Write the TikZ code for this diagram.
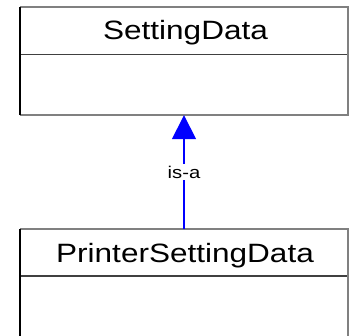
\documentclass[tikz,border=0pt]{standalone}
\usepackage{fontspec}
\setmainfont{Liberation Sans}
\usetikzlibrary{arrows.meta}
\definecolor{edgegray}{HTML}{808080}
\definecolor{divgray}{HTML}{404040}
\tikzset{
  classbox/.style={rectangle, inner sep=0pt, minimum width=328pt},
  titletext/.style={anchor=base, inner sep=0pt, font=\fontsize{26.5}{30}\selectfont, xscale=1.19},
  litetext/.style={font=\fontsize{17}{20}\selectfont, xscale=1.19, fill=white, inner sep=2pt},
  lightedge/.style={draw=edgegray, line width=1.8pt},
  darkedge/.style={draw=black, line width=1.5pt},
  divedge/.style={draw=divgray, line width=1.5pt},
  isa/.style={draw=blue, line width=1.5pt, -{Triangle[width=24pt,length=24pt]}, fill=blue}
}
\begin{document}
\begin{tikzpicture}[x=1pt,y=-1pt]
\useasboundingbox (0,0) rectangle (350,336);
% superclass box
\node[classbox, minimum height=108pt] (sup) at (184,61) {};
\node[titletext] (supname) at (185.5,40) {SettingData};
\coordinate (supdivL) at (20,54.5);
\coordinate (supdivR) at (348,54.5);
\draw[divedge] (supdivL) -- (supdivR);
\draw[lightedge] (sup.north west) -- (sup.north east) -- (sup.south east) -- (sup.south west);
\draw[darkedge] (sup.south west) -- (sup.north west);
% subclass box
\node[classbox, minimum height=110pt] (sub) at (184,284) {};
\node[titletext] (subname) at (185,262) {PrinterSettingData};
\coordinate (subdivL) at (20,276);
\coordinate (subdivR) at (348,276);
\draw[divedge] (subdivL) -- (subdivR);
\draw[lightedge] (sub.south east) -- (sub.north east) -- (sub.north west);
\draw[darkedge] (sub.north west) -- (sub.south west);
% generalization
\draw[isa] (sub.north) -- (sup.south) node[midway, litetext, text=black] {is-a};
\end{tikzpicture}
\end{document}
